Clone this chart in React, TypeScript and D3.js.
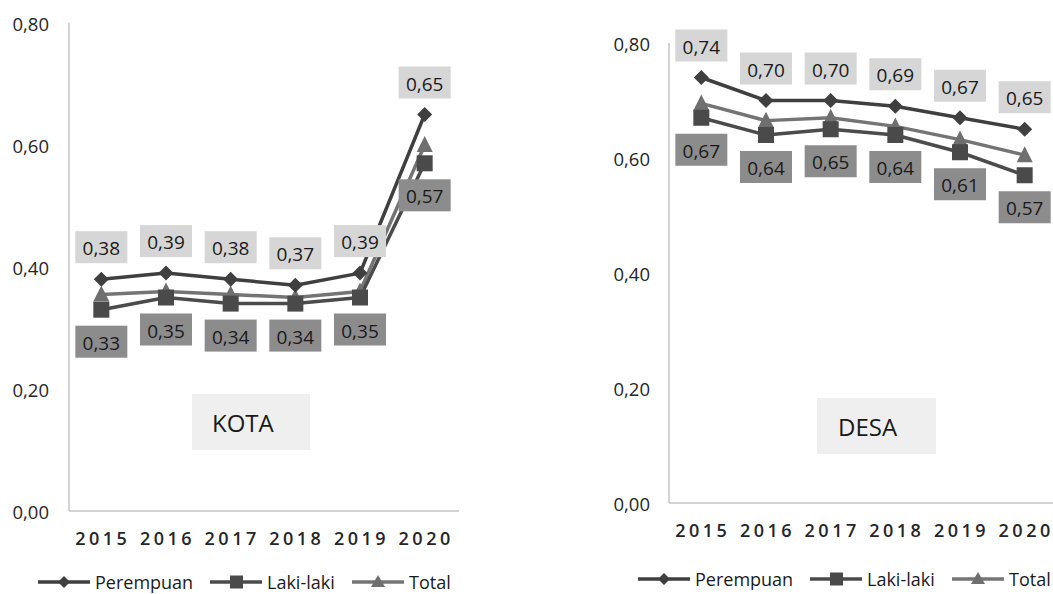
import React from "react";
import * as d3 from "d3";

const years = ["2015", "2016", "2017", "2018", "2019", "2020"];
const yTicks = [0, 0.2, 0.4, 0.6, 0.8];

const kotaPerempuan = [0.38, 0.39, 0.38, 0.37, 0.39, 0.65];
const kotaLaki = [0.33, 0.35, 0.34, 0.34, 0.35, 0.57];
const kotaTotal = [0.355, 0.36, 0.355, 0.35, 0.36, 0.6];

const desaPerempuan = [0.74, 0.7, 0.7, 0.69, 0.67, 0.65];
const desaLaki = [0.67, 0.64, 0.65, 0.64, 0.61, 0.57];
const desaTotal = [0.695, 0.665, 0.67, 0.655, 0.632, 0.605];

const seriesNames = ["Perempuan", "Laki-laki", "Total"];
const seriesColors = ["#3f3f3f", "#4b4b4b", "#747474"];
const markerColors = ["#3f3f3f", "#4a4a4a", "#6f6f6f"];

const FONT = "'Open Sans', 'Noto Sans', sans-serif";
const fmt = (v: number) => v.toFixed(2).replace(".", ",");

function Marker({ kind, x, y, color }: { kind: number; x: number; y: number; color: string }) {
  if (kind === 0) {
    const r = 7.5;
    return <path d={`M${x},${y - r}L${x + r},${y}L${x},${y + r}L${x - r},${y}Z`} fill={color} />;
  }
  if (kind === 1) {
    return <rect x={x - 8} y={y - 8} width={16} height={16} fill={color} />;
  }
  const r = 8;
  return <path d={`M${x},${y - r - 1}L${x + r},${y + r - 1}L${x - r},${y + r - 1}Z`} fill={color} />;
}

type PanelProps = {
  x0: number;
  x1: number;
  yTop: number;
  yBottom: number;
  tickRight: number;
  perempuan: number[];
  laki: number[];
  total: number[];
  name: string;
  box: [number, number, number, number];
  textX: number;
  textY: number;
  legendY: number;
  legendX: number[];
  clipRight: number;
};

function Panel(p: PanelProps) {
  const x = d3.scalePoint<string>().domain(years).range([p.x0, p.x1]).padding(0.5);
  const y = d3.scaleLinear().domain([0, 0.8]).range([p.yBottom, p.yTop]);
  const line = d3
    .line<number>()
    .x((_, i) => x(years[i]) as number)
    .y((d) => y(d));
  const data = [p.perempuan, p.laki, p.total];
  return (
    <g>
      <line x1={p.x0} x2={p.x0} y1={p.yTop} y2={p.yBottom} stroke="#c4c4c4" strokeWidth={1.5} />
      <line x1={p.x0} x2={Math.min(p.x1 + 2, p.clipRight)} y1={p.yBottom} y2={p.yBottom} stroke="#c4c4c4" strokeWidth={1.5} />
      {yTicks.map((t) => (
        <text
          key={t}
          x={p.tickRight}
          y={y(t)}
          textAnchor="end"
          dominantBaseline="central"
          fontFamily={FONT}
          fontSize={18.5}
          fill="#262626"
        >
          {fmt(t)}
        </text>
      ))}
      {years.map((yr) => (
        <text
          key={yr}
          x={(x(yr) as number) + 1.5}
          y={p.yBottom + 34}
          textAnchor="middle"
          fontFamily={FONT}
          fontSize={18}
          fontWeight={600}
          letterSpacing={3.5}
          fill="#262626"
        >
          {yr}
        </text>
      ))}
      <rect x={p.box[0]} y={p.box[1]} width={p.box[2]} height={p.box[3]} fill="#efefef" />
      <text x={p.textX} y={p.textY} fontFamily={FONT} fontSize={24} fill="#1a1a1a">
        {p.name}
      </text>
      {[2, 1, 0].map((s) => (
        <path key={s} d={line(data[s]) || ""} fill="none" stroke={seriesColors[s]} strokeWidth={3.5} strokeLinejoin="round" />
      ))}
      {[2, 1, 0].map((s) =>
        data[s].map((v, i) => (
          <Marker key={`${s}-${i}`} kind={s} x={x(years[i]) as number} y={y(v)} color={markerColors[s]} />
        ))
      )}
      {p.perempuan.map((v, i) => {
        const cx = x(years[i]) as number;
        const cy = y(v) - 32;
        return (
          <g key={`pl${i}`}>
            <rect x={cx - 26} y={cy - 16} width={52} height={32} fill="#d6d6d6" />
            <text x={cx} y={cy + 1} textAnchor="middle" dominantBaseline="central" fontFamily={FONT} fontSize={19} fill="#1a1a1a">
              {fmt(v)}
            </text>
          </g>
        );
      })}
      {p.laki.map((v, i) => {
        const cx = x(years[i]) as number;
        const cy = y(v) + 32;
        return (
          <g key={`ll${i}`}>
            <rect x={cx - 26} y={cy - 16} width={52} height={32} fill="#8c8c8c" />
            <text x={cx} y={cy + 1} textAnchor="middle" dominantBaseline="central" fontFamily={FONT} fontSize={19} fill="#1a1a1a">
              {fmt(v)}
            </text>
          </g>
        );
      })}
      {seriesNames.map((n, s) => {
        const lx = p.legendX[s];
        return (
          <g key={n}>
            <line x1={lx} x2={lx + 52} y1={p.legendY} y2={p.legendY} stroke={seriesColors[s]} strokeWidth={3.5} />
            {s === 0 ? (
              <path d={`M${lx + 26},${p.legendY - 6}L${lx + 32},${p.legendY}L${lx + 26},${p.legendY + 6}L${lx + 20},${p.legendY}Z`} fill={markerColors[0]} />
            ) : s === 1 ? (
              <rect x={lx + 20} y={p.legendY - 6.5} width={13} height={13} fill={markerColors[1]} />
            ) : (
              <path d={`M${lx + 26},${p.legendY - 7}L${lx + 33},${p.legendY + 5}L${lx + 19},${p.legendY + 5}Z`} fill={markerColors[2]} />
            )}
            <text x={lx + 57} y={p.legendY} dominantBaseline="central" fontFamily={FONT} fontSize={18} fill="#1a1a1a">
              {n}
            </text>
          </g>
        );
      })}
    </g>
  );
}

export default function App() {
  return (
    <svg
      width={1053}
      height={594}
      style={{ position: "absolute", left: 0, top: 0, background: "#fff" }}
    >
      <rect width={1053} height={594} fill="#fff" />
      <Panel
        x0={69}
        x1={457}
        yTop={23}
        yBottom={511}
        tickRight={49}
        perempuan={kotaPerempuan}
        laki={kotaLaki}
        total={kotaTotal}
        name="KOTA"
        box={[192, 394, 118, 56]}
        textX={212}
        textY={432}
        legendY={582}
        legendX={[38, 210, 352]}
        clipRight={1053}
      />
      <Panel
        x0={669}
        x1={1057}
        yTop={43}
        yBottom={503}
        tickRight={650}
        perempuan={desaPerempuan}
        laki={desaLaki}
        total={desaTotal}
        name="DESA"
        box={[817, 398, 119, 56]}
        textX={838}
        textY={436}
        legendY={579}
        legendX={[638, 810, 952]}
        clipRight={1053}
      />
    </svg>
  );
}
